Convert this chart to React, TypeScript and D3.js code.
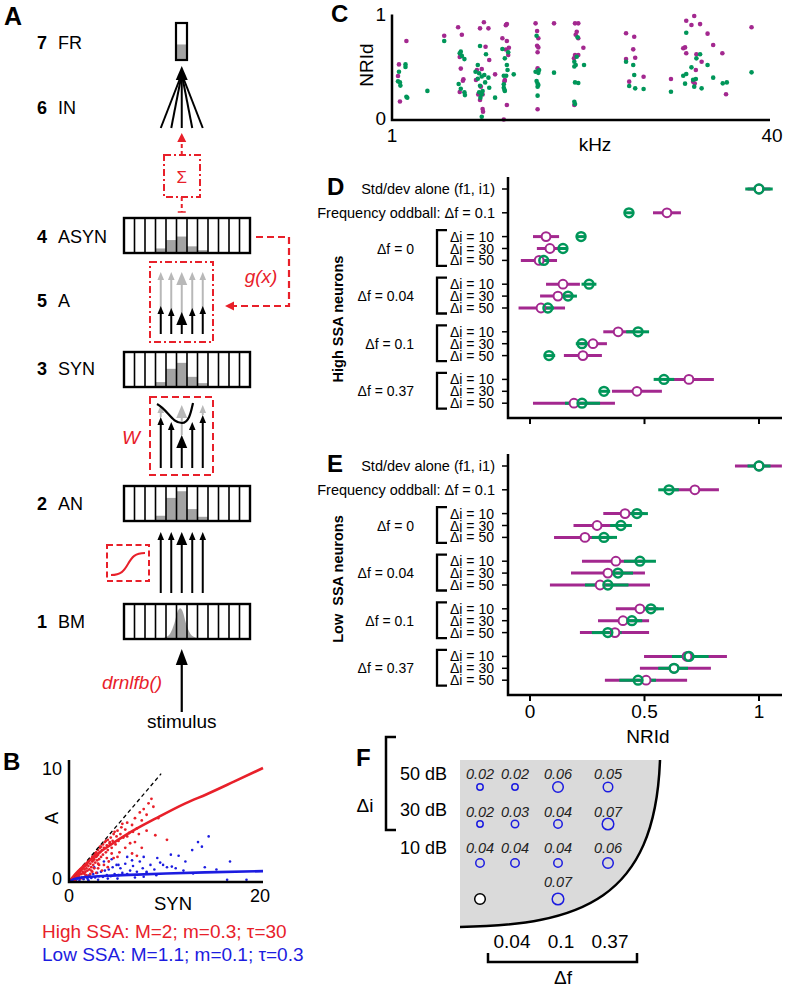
import React from 'react';
import * as d3 from 'd3';

const FONT = '"Liberation Sans", Arial, Helvetica, sans-serif';
const RED = '#e8202a';
const BLUE = '#1c1ce0';
const MAG = '#a3288f';
const GRN = '#009659';
const GRAY = '#a3a3a3';
const LIGHT = '#b8b8b8';

// ---------- Panel A: model stages ----------
const layerNumbers = ['7', '6', '4', '5', '3', '2', '1'];
const layerNames = ['FR', 'IN', 'ASYN', 'A', 'SYN', 'AN', 'BM'];
const asynHist = [0, 0, 0, 0.13, 0.37, 0.47, 0.19, 0.08, 0, 0, 0, 0];
const synHist = [0, 0, 0, 0.14, 0.52, 0.69, 0.29, 0.11, 0, 0, 0, 0];
const anHist = [0, 0, 0, 0.15, 0.66, 0.85, 0.34, 0.12, 0, 0, 0, 0];
// BM excitation profile: [cell position, height]
const bmProfile: [number, number][] = [
  [3.4, 0], [3.9, 0.04], [4.4, 0.16], [4.8, 0.45], [5.1, 0.78], [5.35, 0.88],
  [5.6, 0.78], [5.9, 0.45], [6.3, 0.16], [6.8, 0.04], [7.3, 0],
];
const frLevel = 0.42;

// ---------- Panel B: A vs SYN ----------
const identityLine: [number, number][] = [[0, 0], [9.5, 9.5]];
const highSsaFit: [number, number][] = [
  [0, 0], [0.5, 0.55], [1, 1.0], [2, 1.8], [3, 2.5], [4, 3.1], [6, 4.2], [9, 5.6],
  [12, 6.9], [14.2, 7.7], [17, 8.8], [20, 10],
];
const lowSsaFit: [number, number][] = [
  [0, 0], [0.5, 0.25], [1, 0.35], [2, 0.45], [4, 0.55], [7, 0.65], [10, 0.74], [14, 0.84], [20, 0.95],
];
const highSsaPoints: [number, number][] = [
  [0.2, 0.15], [0.3, 0.25], [0.4, 0.2], [0.5, 0.4], [0.6, 0.35], [0.7, 0.55], [0.8, 0.4], [0.9, 0.7],
  [1.0, 0.5], [1.0, 0.85], [1.1, 0.65], [1.2, 1.0], [1.3, 0.7], [1.3, 1.1], [1.4, 0.9], [1.5, 1.3],
  [1.5, 0.8], [1.6, 1.1], [1.7, 1.4], [1.7, 0.9], [1.8, 1.2], [1.9, 1.6], [1.9, 1.0], [2.0, 1.4],
  [2.0, 1.8], [2.1, 1.1], [2.2, 1.6], [2.2, 2.0], [2.3, 1.3], [2.4, 1.8], [2.4, 2.2], [2.5, 1.5],
  [2.6, 2.0], [2.6, 2.4], [2.7, 1.7], [2.8, 2.2], [2.8, 2.6], [2.9, 1.9], [3.0, 2.4], [3.0, 2.8],
  [3.1, 2.0], [3.2, 2.6], [3.2, 3.0], [3.3, 2.2], [3.4, 2.8], [3.5, 3.3], [3.5, 2.4], [3.6, 3.0],
  [3.7, 3.5], [3.8, 2.6], [3.9, 3.2], [4.0, 3.7], [4.0, 2.8], [4.2, 3.4], [4.3, 3.9], [4.4, 3.0],
  [4.5, 3.6], [4.6, 4.2], [4.8, 3.3], [4.9, 4.0], [5.0, 4.5], [5.1, 3.6], [5.3, 4.2], [5.4, 4.8],
  [5.6, 3.9], [5.8, 4.6], [6.0, 5.2], [6.2, 4.3], [6.5, 5.0], [6.8, 5.6], [7.0, 4.7], [7.3, 6.1],
  [7.5, 5.4], [7.7, 6.4], [8.0, 5.9], [8.2, 6.9], [8.5, 7.3], [8.7, 6.6], [9.2, 5.6], [8.9, 4.1],
  [10.1, 3.7], [6.8, 3.5], [6.5, 2.5], [7.0, 2.3], [4.7, 4.4], [4.2, 3.5], [3.2, 3.1], [2.5, 2.2],
  [1.8, 0.6], [2.4, 0.9], [3.0, 1.2], [3.6, 1.5], [4.1, 1.8], [4.6, 2.1], [5.2, 2.6], [5.8, 3.0],
  [6.3, 3.4], [2.0, 0.5], [2.8, 0.8], [3.4, 1.0], [1.2, 0.3], [0.6, 0.15], [1.5, 0.4], [2.2, 0.7],
  [5.0, 2.2], [4.0, 1.3], [7.5, 3.0], [8.0, 4.5], [5.5, 5.1], [6.0, 4.0], [6.6, 4.4], [7.2, 4.2],
  [3.9, 2.1], [4.4, 2.5], [3.0, 1.6], [2.6, 1.2], [0.4, 0.35], [0.8, 0.7], [1.1, 0.95], [1.6, 1.45],
  [2.1, 1.9], [2.7, 2.5], [3.3, 3.1], [3.8, 3.6], [0.3, 0.1], [0.5, 0.3], [0.7, 0.45], [0.9, 0.55],
  [1.1, 0.8], [1.4, 1.2], [1.6, 0.7], [1.8, 1.5], [2.3, 1.0], [2.5, 1.9], [2.9, 2.3], [3.1, 1.5],
];
const lowSsaPoints: [number, number][] = [
  [0.3, 0.1], [0.5, 0.2], [0.7, 0.15], [0.9, 0.3], [1.1, 0.2], [1.3, 0.4], [1.5, 0.25], [1.7, 0.5],
  [1.9, 0.3], [2.1, 0.6], [2.3, 0.35], [2.5, 0.7], [2.7, 0.4], [2.9, 0.8], [3.1, 0.5], [3.3, 0.9],
  [3.5, 0.45], [3.7, 1.0], [3.9, 0.6], [4.1, 1.1], [4.3, 0.5], [4.5, 1.3], [4.7, 0.7], [4.9, 1.5],
  [5.1, 0.6], [5.3, 1.2], [5.5, 0.8], [5.8, 1.6], [6.0, 0.7], [6.3, 1.0], [6.6, 1.4], [7.0, 0.9],
  [7.3, 1.8], [7.6, 1.2], [8.0, 0.8], [8.4, 1.5], [8.8, 1.1], [9.1, 2.1], [9.4, 1.7], [9.7, 1.5],
  [10.1, 1.3], [10.5, 2.4], [11.0, 1.2], [11.3, 2.3], [11.8, 1.0], [12.0, 1.8], [12.7, 2.8], [13.3, 3.5],
  [13.7, 3.1], [14.4, 4.0], [14.0, 1.3], [15.2, 1.1], [16.6, 1.8], [16.3, 0.2], [18.3, 0.2], [12.8, 0.75],
  [9.0, 0.6], [6.8, 0.4], [5.0, 0.3], [3.0, 0.2], [2.0, 0.15], [1.0, 0.05], [4.0, 0.3], [8.0, 0.9],
  [10.6, 1.35], [6.0, 2.2], [5.1, 1.5], [7.7, 2.2], [6.5, 1.9], [7.7, 0.46], [3.6, 1.8], [4.4, 2.0],
  [2.6, 1.3],
];

// ---------- Panel C: NRId vs best frequency ----------
const nridMagenta: [number, number][] = [
  [1.15, 0.74], [1.07, 0.52], [1.06, 0.41], [1.08, 0.17], [1.66, 0.79],
  [1.90, 0.87], [1.97, 0.80], [1.93, 0.59], [1.95, 0.48], [2.0, 0.38], [1.99, 0.365], [1.93, 0.26],
  [2.44, 0.917], [2.35, 0.86], [2.55, 0.86], [2.48, 0.687], [2.57, 0.561], [2.39, 0.476], [2.28, 0.467],
  [2.72, 0.426], [2.26, 0.373], [2.37, 0.31], [2.31, 0.237], [2.41, 0.237], [2.35, 0.184], [2.41, 0.099], [2.42, 0.074],
  [3.02, 0.89], [3.05, 0.90], [2.92, 0.766], [3.05, 0.74], [3.11, 0.677], [3.02, 0.66], [3.09, 0.608],
  [2.99, 0.373], [2.98, 0.36], [3.05, 0.137], [2.96, 0.0],
  [4.03, 0.907], [4.09, 0.835], [4.14, 0.766], [4.09, 0.696], [4.14, 0.68], [4.11, 0.634], [4.11, 0.483], [4.11, 0.096],
  [4.82, 0.907],
  [5.91, 0.907], [6.10, 0.907], [6.01, 0.828], [5.95, 0.80], [6.10, 0.766], [5.91, 0.608], [6.10, 0.608], [5.85, 0.577], [5.87, 0.137],
  [6.41, 0.677],
  [9.70, 0.813], [10.5, 0.781], [10.4, 0.662], [10.6, 0.583], [9.70, 0.571], [10.0, 0.357], [11.5, 0.404],
  [15.0, 0.382],
  [18.8, 0.976], [17.4, 0.932], [18.3, 0.892], [19.9, 0.90], [16.9, 0.672], [17.2, 0.68], [17.4, 0.625],
  [19.2, 0.615], [20.2, 0.545], [19.1, 0.467], [18.6, 0.357], [18.9, 0.34],
  [21.4, 0.81], [22.6, 0.703], [24.7, 0.625], [25.6, 0.238],
  [32.8, 0.87],
];
const nridGreen: [number, number][] = [
  [1.14, 0.52], [1.14, 0.495], [1.07, 0.45], [1.06, 0.36], [1.08, 0.35], [1.085, 0.32], [1.15, 0.215], [1.16, 0.205],
  [1.41, 0.27], [1.66, 0.74],
  [1.95, 0.64], [1.93, 0.625], [1.97, 0.60], [2.02, 0.57], [1.91, 0.335], [1.95, 0.29], [2.02, 0.257], [2.03, 0.23],
  [2.35, 0.693], [2.49, 0.615], [2.30, 0.514], [2.25, 0.451], [2.33, 0.436], [2.45, 0.42], [2.39, 0.405], [2.30, 0.385],
  [2.55, 0.395], [2.47, 0.35], [2.35, 0.319], [2.41, 0.269], [2.33, 0.257], [2.39, 0.238], [2.36, 0.206], [2.39, 0.026],
  [2.72, 0.206], [2.57, 0.30],
  [2.92, 0.665], [3.09, 0.634], [2.99, 0.577], [3.05, 0.514], [3.07, 0.467], [2.96, 0.413], [3.03, 0.413], [3.26, 0.426],
  [2.96, 0.332], [2.96, 0.30], [2.99, 0.269], [2.98, 0.28],
  [4.07, 0.79], [4.03, 0.451], [4.14, 0.44], [4.17, 0.466], [4.07, 0.363], [4.11, 0.34], [4.11, 0.31], [4.14, 0.325], [4.11, 0.225],
  [4.82, 0.442],
  [6.06, 0.775], [6.01, 0.592], [5.87, 0.545], [5.95, 0.514], [5.87, 0.50], [5.91, 0.35], [6.10, 0.345], [5.87, 0.168], [5.91, 0.146],
  [6.45, 0.514],
  [9.70, 0.545], [10.4, 0.514], [10.5, 0.42], [10.0, 0.316], [10.6, 0.294], [11.5, 0.288],
  [15.0, 0.262],
  [17.4, 0.819], [19.9, 0.615], [19.2, 0.577], [18.3, 0.492], [17.4, 0.429], [16.9, 0.413], [19.1, 0.382], [18.6, 0.375],
  [17.2, 0.338], [18.8, 0.31], [20.2, 0.294],
  [21.4, 0.514], [22.6, 0.395], [24.8, 0.341], [25.8, 0.35],
  [32.8, 0.445],
];

// ---------- Panels D/E: NRId per condition [mean, low, high] ----------
const topLabels = ['Std/dev alone (f1, i1)', 'Frequency oddball: Δf = 0.1'];
const groupLabels = ['Δf = 0', 'Δf = 0.04', 'Δf = 0.1', 'Δf = 0.37'];
const intensityLabels = ['Δi = 10', 'Δi = 30', 'Δi = 50'];
const rowSlots = [0, 2, 4, 5, 6, 8, 9, 10, 12, 13, 14, 16, 17, 18];
const nridTicks = [0, 0.5, 1];

const highMagenta: [number, number, number][] = [
  [1.0, 0.95, 1.05], [0.598, 0.537, 0.659],
  [0.07, 0.013, 0.127], [0.087, 0.03, 0.14], [0.04, -0.04, 0.118],
  [0.144, 0.07, 0.218], [0.122, 0.044, 0.19], [0.048, -0.05, 0.153],
  [0.385, 0.32, 0.45], [0.275, 0.215, 0.336], [0.231, 0.148, 0.314],
  [0.694, 0.585, 0.803], [0.467, 0.358, 0.576], [0.192, 0.013, 0.371],
];
const highGreen: [number, number, number][] = [
  [1.0, 0.94, 1.06], [0.432, 0.41, 0.455],
  [0.223, 0.2, 0.245], [0.144, 0.122, 0.166], [0.06, 0.04, 0.08],
  [0.258, 0.225, 0.29], [0.166, 0.13, 0.205], [0.078, 0.05, 0.105],
  [0.472, 0.42, 0.52], [0.227, 0.2, 0.25], [0.083, 0.06, 0.11],
  [0.585, 0.54, 0.63], [0.323, 0.3, 0.35], [0.227, 0.153, 0.306],
];
const lowMagenta: [number, number, number][] = [
  [1.0, 0.895, 1.1], [0.72, 0.62, 0.825],
  [0.415, 0.32, 0.5], [0.293, 0.19, 0.4], [0.24, 0.105, 0.36],
  [0.375, 0.227, 0.5], [0.34, 0.179, 0.502], [0.306, 0.087, 0.524],
  [0.48, 0.375, 0.56], [0.406, 0.297, 0.52], [0.371, 0.218, 0.52],
  [0.686, 0.498, 0.86], [0.629, 0.48, 0.79], [0.507, 0.327, 0.686],
];
const lowGreen: [number, number, number][] = [
  [1.0, 0.95, 1.05], [0.607, 0.56, 0.65],
  [0.467, 0.42, 0.515], [0.397, 0.35, 0.445], [0.323, 0.27, 0.38],
  [0.48, 0.41, 0.55], [0.384, 0.33, 0.45], [0.34, 0.24, 0.43],
  [0.528, 0.47, 0.585], [0.445, 0.4, 0.49], [0.34, 0.27, 0.4],
  [0.694, 0.62, 0.78], [0.629, 0.56, 0.69], [0.472, 0.39, 0.55],
];

// ---------- Panel F: p-values ----------
const fColumns = ['0', '0.04', '0.1', '0.37'];
const fColumnLabels = ['0.04', '0.1', '0.37'];
const fRowLabels = ['50 dB', '30 dB', '10 dB'];
const fValues: (number | null)[][] = [
  [0.02, 0.02, 0.06, 0.05],
  [0.02, 0.03, 0.04, 0.07],
  [0.04, 0.04, 0.04, 0.06],
  [null, null, 0.07, null],
];

// ---------- layout ----------
const CELL_X0 = 124;
const CELL_W = 10.5;
const N_CELLS = 12;
const BOX_H = 35;
const ARROW_CELLS = [3.5, 4.5, 5.5, 6.5, 7.5];
const LAYER_BASE = [49, 114, 243, 307, 375, 510, 628];

function Head({ x, y, hw, hl, fill, dir = 'up' }: any) {
  const pts = dir === 'up'
    ? `${x},${y} ${x - hw},${y + hl} ${x + hw},${y + hl}`
    : `${x},${y} ${x + hl},${y - hw} ${x + hl},${y + hw}`;
  return <polygon points={pts} fill={fill} />;
}

function UpArrow({ x, from, tip, big = false, color = '#000' }: any) {
  const hw = big ? 5.5 : 3.3;
  const hl = big ? 13 : 8;
  return (
    <g>
      <line x1={x} x2={x} y1={from} y2={tip + hl * 0.6} stroke={color} strokeWidth={2} />
      <Head x={x} y={tip} hw={hw} hl={hl} fill={color} />
    </g>
  );
}

function LayerBox({ top, hist, profile }: { top: number; hist?: number[]; profile?: [number, number][] }) {
  const bottom = top + BOX_H;
  const area = d3.area<[number, number]>()
    .x(d => CELL_X0 + d[0] * CELL_W)
    .y0(bottom)
    .y1(d => bottom - d[1] * BOX_H)
    .curve(d3.curveMonotoneX);
  return (
    <g>
      {hist && hist.map((h, i) => h > 0 && (
        <rect key={i} x={CELL_X0 + i * CELL_W} y={bottom - h * BOX_H} width={CELL_W} height={h * BOX_H} fill={GRAY} />
      ))}
      {profile && <path d={area(profile) || ''} fill={GRAY} />}
      {d3.range(1, N_CELLS).map(i => (
        <line key={i} x1={CELL_X0 + i * CELL_W} x2={CELL_X0 + i * CELL_W} y1={top} y2={bottom} stroke="#000" strokeWidth={1.6} />
      ))}
      <rect x={CELL_X0} y={top} width={N_CELLS * CELL_W} height={BOX_H} fill="none" stroke="#000" strokeWidth={2.4} />
    </g>
  );
}

function PanelA() {
  const ax = ARROW_CELLS.map(c => CELL_X0 + c * CELL_W);
  const cx = ax[2];
  const aBlackTips = [306, 308, 312, 308, 306];
  const wBlackTips = [417, 422, 435, 422, 415];
  return (
    <g>
      <text x={4} y={25} fontSize={25} fontWeight="bold">A</text>
      {layerNames.map((n, i) => (
        <g key={n}>
          <text x={37} y={LAYER_BASE[i]} fontSize={18} fontWeight="bold">{layerNumbers[i]}</text>
          <text x={58} y={LAYER_BASE[i]} fontSize={18}>{n}</text>
        </g>
      ))}

      {/* 7 FR */}
      <rect x={176} y={60 - frLevel * 37} width={11} height={frLevel * 37} fill={GRAY} />
      <rect x={176} y={23} width={11} height={37} fill="none" stroke="#000" strokeWidth={2.2} />

      {/* 6 IN */}
      {ax.map((x, i) => <line key={i} x1={cx} y1={74} x2={x} y2={128} stroke="#000" strokeWidth={2} />)}
      <Head x={cx} y={66} hw={6} hl={14} fill="#000" />

      {/* sum */}
      <line x1={cx} x2={cx} y1={155} y2={141} stroke={RED} strokeWidth={2} strokeDasharray="4,3" />
      <Head x={cx} y={133} hw={4.5} hl={9} fill={RED} />
      <rect x={164} y={155} width={36} height={42} fill="none" stroke={RED} strokeWidth={2} strokeDasharray="7,3,2,3" />
      <text x={cx} y={183} fontSize={17} fill={RED} textAnchor="middle">Σ</text>
      <line x1={cx} x2={cx} y1={197} y2={212} stroke={RED} strokeWidth={2} strokeDasharray="4,3" />
      <line x1={cx - 4} x2={cx + 4} y1={212} y2={212} stroke={RED} strokeWidth={1.5} />

      {/* 4 ASYN */}
      <LayerBox top={218} hist={asynHist} />
      <path d="M256,237 H289 V306 H233" fill="none" stroke={RED} strokeWidth={2.2} strokeDasharray="7,4" />
      <Head x={225} y={306} hw={4.5} hl={9} fill={RED} dir="left" />
      <text x={261} y={283} fontSize={19} fontStyle="italic" fill={RED} textAnchor="middle">g(x)</text>

      {/* 5 A */}
      {ax.map((x, i) => <UpArrow key={'g' + i} x={x} from={aBlackTips[i] + 4} tip={272} big={i === 2} color={LIGHT} />)}
      {ax.map((x, i) => <UpArrow key={'b' + i} x={x} from={334} tip={aBlackTips[i]} big={i === 2} />)}
      <rect x={150} y={262} width={63} height={80} fill="none" stroke={RED} strokeWidth={2} strokeDasharray="7,3,2,3" />

      {/* 3 SYN */}
      <LayerBox top={352} hist={synHist} />

      {/* W */}
      {[0, 2, 4].map(i => <UpArrow key={'wg' + i} x={ax[i]} from={wBlackTips[i]} tip={405} big={i === 2} color={LIGHT} />)}
      {ax.map((x, i) => <UpArrow key={'wb' + i} x={x} from={468} tip={wBlackTips[i]} big={i === 2} />)}
      <path d="M157,404 C168,410 172,423 182,423 C189,423 191,412 193,403" fill="none" stroke="#000" strokeWidth={2.2} />
      <rect x={150} y={397} width={63} height={78} fill="none" stroke={RED} strokeWidth={2} strokeDasharray="7,4" />
      <text x={131} y={444} fontSize={19} fontStyle="italic" fill={RED} textAnchor="middle">W</text>

      {/* 2 AN */}
      <LayerBox top={486} hist={anHist} />
      {ax.map((x, i) => <UpArrow key={'an' + i} x={x} from={593} tip={532} big={i === 2} />)}
      <rect x={107} y={545} width={42} height={36} fill="none" stroke={RED} strokeWidth={2} strokeDasharray="6,3.5" />
      <path d="M111,575 C121,575 124,571 128,564 C132,557 135,553 145,553" fill="none" stroke={RED} strokeWidth={2} />

      {/* 1 BM */}
      <LayerBox top={604} profile={bmProfile} />
      <line x1={cx} x2={cx} y1={712} y2={660} stroke="#000" strokeWidth={2.2} />
      <Head x={cx} y={649} hw={6} hl={16} fill="#000" />
      <text x={132} y={689} fontSize={19} fontStyle="italic" fill={RED} textAnchor="middle">drnlfb()</text>
      <text x={cx} y={728} fontSize={19} textAnchor="middle">stimulus</text>
    </g>
  );
}

function PanelB() {
  const x = d3.scaleLinear().domain([0, 20]).range([69, 263]);
  const y = d3.scaleLinear().domain([0, 10]).range([882, 768]);
  const line = d3.line<[number, number]>().x(d => x(d[0])).y(d => y(d[1])).curve(d3.curveMonotoneX);
  return (
    <g>
      <text x={3} y={770} fontSize={24} fontWeight="bold">B</text>
      {lowSsaPoints.map((d, i) => <circle key={'l' + i} cx={x(d[0])} cy={y(d[1])} r={1.3} fill={BLUE} />)}
      {highSsaPoints.map((d, i) => <circle key={'h' + i} cx={x(d[0])} cy={y(d[1])} r={1.4} fill={RED} />)}
      <path d={line(identityLine) || ''} fill="none" stroke="#000" strokeWidth={1.3} strokeDasharray="4,3" />
      <path d={line(highSsaFit) || ''} fill="none" stroke={RED} strokeWidth={2.6} />
      <path d={line(lowSsaFit) || ''} fill="none" stroke={BLUE} strokeWidth={2.6} />
      <path d={`M${x(0)},${y(10.7)} V${y(0)} H${x(20)}`} fill="none" stroke="#000" strokeWidth={2.5} />
      <text x={62} y={775} fontSize={18} textAnchor="end">10</text>
      <text x={62} y={885} fontSize={18} textAnchor="end">0</text>
      <text x={x(0)} y={902} fontSize={18} textAnchor="middle">0</text>
      <text x={x(20) - 3} y={902} fontSize={18} textAnchor="middle">20</text>
      <text x={173} y={910} fontSize={18.5} textAnchor="middle">SYN</text>
      <text transform="translate(58,818) rotate(-90)" fontSize={18} textAnchor="middle">A</text>
      <text x={42} y={938} fontSize={19} fill={RED}>High SSA: M=2; m=0.3; τ=30</text>
      <text x={42} y={961} fontSize={19} fill={BLUE}>Low SSA: M=1.1; m=0.1; τ=0.3</text>
    </g>
  );
}

function PanelC() {
  const x = d3.scaleLog().domain([1, 40]).range([392, 772]);
  const y = d3.scaleLinear().domain([0, 1]).range([119.5, 13.5]);
  return (
    <g>
      <text x={331} y={22} fontSize={24} fontWeight="bold">C</text>
      {nridMagenta.map((d, i) => <circle key={'m' + i} cx={x(d[0])} cy={y(d[1])} r={2.3} fill={MAG} />)}
      {nridGreen.map((d, i) => <circle key={'g' + i} cx={x(d[0])} cy={y(d[1])} r={2.3} fill={GRN} />)}
      <path d={`M${x(1)},${y(0.99)} V${y(0) + 0.5} H${x(40) - 2}`} fill="none" stroke="#000" strokeWidth={2.5} />
      <text x={386} y={21} fontSize={19} textAnchor="end">1</text>
      <text x={386} y={125} fontSize={19} textAnchor="end">0</text>
      <text x={x(1)} y={142} fontSize={19} textAnchor="middle">1</text>
      <text x={x(40)} y={142} fontSize={19} textAnchor="middle">40</text>
      <text x={595} y={151} fontSize={19} textAnchor="middle">kHz</text>
      <text transform="translate(373,65) rotate(-90)" fontSize={19} textAnchor="middle">NRId</text>
    </g>
  );
}

function Forest({ base, letter, side, sideCenter, mag, grn, showTicks }: any) {
  const x = d3.scaleLinear().domain([0, 1]).range([530, 759]);
  const y = d3.scaleLinear().domain([0, 18]).range([base, base + 18 * 11.9]);
  const axisX = 508;
  const yTop = y(-1);
  const yBot = y(19.25);
  return (
    <g>
      <text x={327} y={base + 6} fontSize={24} fontWeight="bold">{letter}</text>
      <text transform={`translate(343,${sideCenter}) rotate(-90)`} fontSize={14.5} fontWeight="bold" textAnchor="middle" style={{ whiteSpace: 'pre' }}>{side}</text>
      {rowSlots.map((s, i) => (
        <g key={i}>
          <line x1={axisX - 6} x2={axisX} y1={y(s)} y2={y(s)} stroke="#000" strokeWidth={1.5} />
          <text x={i < 2 ? 495 : 494} y={y(s) + 5} fontSize={i < 2 ? 14.5 : 14} textAnchor="end">
            {i < 2 ? topLabels[i] : intensityLabels[(i - 2) % 3]}
          </text>
        </g>
      ))}
      {groupLabels.map((g, k) => {
        const r0 = y(rowSlots[2 + k * 3]);
        const r1 = y(rowSlots[3 + k * 3]);
        const r2 = y(rowSlots[4 + k * 3]);
        return (
          <g key={g}>
            <path d={`M447,${r0 - 6.5} H437 V${r2 + 5.5} H447`} fill="none" stroke="#000" strokeWidth={2.3} />
            <text x={414} y={r1 + 5} fontSize={14} textAnchor="end">{g}</text>
          </g>
        );
      })}
      {mag.map((d: number[], i: number) => (
        <line key={'mb' + i} x1={x(d[1])} x2={x(d[2])} y1={y(rowSlots[i])} y2={y(rowSlots[i])} stroke={MAG} strokeWidth={3} />
      ))}
      {grn.map((d: number[], i: number) => (
        <line key={'gb' + i} x1={x(d[1])} x2={x(d[2])} y1={y(rowSlots[i])} y2={y(rowSlots[i])} stroke={GRN} strokeWidth={3} />
      ))}
      {mag.map((d: number[], i: number) => (
        <circle key={'mc' + i} cx={x(d[0])} cy={y(rowSlots[i])} r={4.4} fill="#fff" stroke={MAG} strokeWidth={2} />
      ))}
      {grn.map((d: number[], i: number) => (
        <circle key={'gc' + i} cx={x(d[0])} cy={y(rowSlots[i])} r={4.4} fill="none" stroke={GRN} strokeWidth={2.5} />
      ))}
      <path d={`M${axisX},${yTop} V${yBot} H782`} fill="none" stroke="#000" strokeWidth={2.5} />
      {nridTicks.map(t => (
        <line key={t} x1={x(t)} x2={x(t)} y1={yBot} y2={yBot + 6} stroke="#000" strokeWidth={2} />
      ))}
      {showTicks && nridTicks.map(t => (
        <text key={'l' + t} x={x(t)} y={yBot + 23} fontSize={19} textAnchor="middle">{t}</text>
      ))}
      {showTicks && <text x={648} y={743} fontSize={19} textAnchor="middle">NRId</text>}
    </g>
  );
}

function PanelF() {
  const colX = d3.scaleOrdinal<string, number>().domain(fColumns).range([480, 515, 558, 608]);
  const rowCircleY = [787, 824, 863, 899];
  const rowTextY = [779, 817, 853, 887];
  const rowLabelY = [780, 816, 854];
  const r = d3.scaleLinear().domain([0.02, 0.07]).range([3.2, 5.8]);
  const curve = 'C655,900 580,925 460,927';
  return (
    <g>
      <text x={356} y={766} fontSize={24} fontWeight="bold">F</text>
      <path d={`M460,760 L660,760 ${curve} Z`} fill="#dadada" />
      <path d={`M660,760 ${curve}`} fill="none" stroke="#000" strokeWidth={2.5} />
      <path d="M396,737 H386 V830 H396" fill="none" stroke="#000" strokeWidth={2.5} />
      <text x={365} y={812} fontSize={19} textAnchor="middle">Δi</text>
      {fRowLabels.map((l, i) => (
        <text key={l} x={447} y={rowLabelY[i]} fontSize={18} textAnchor="end">{l}</text>
      ))}
      {fValues.map((row, i) => row.map((v, j) => v == null ? null : (
        <g key={i + '-' + j}>
          <text x={colX(fColumns[j])} y={rowTextY[i]} fontSize={14.5} fontStyle="italic" textAnchor="middle" fill="#222">{v.toFixed(2)}</text>
          <circle cx={colX(fColumns[j])} cy={rowCircleY[i]} r={r(v)} fill="none" stroke={BLUE} strokeWidth={1.5} />
        </g>
      )))}
      <circle cx={colX('0')} cy={rowCircleY[3]} r={5.3} fill="#fff" stroke="#000" strokeWidth={1.5} />
      {fColumnLabels.map((l, i) => (
        <text key={l} x={[512, 561, 610][i]} y={948} fontSize={19} textAnchor="middle">{l}</text>
      ))}
      <path d="M488,953 V962 H637 V953" fill="none" stroke="#000" strokeWidth={2.5} />
      <text x={563} y={984} fontSize={19} textAnchor="middle">Δf</text>
    </g>
  );
}

export default function App() {
  return (
    <svg width={787} height={988} viewBox="0 0 787 988" fontFamily={FONT}
      style={{ position: 'absolute', left: 0, top: 0, background: '#fff' }}>
      <rect width={787} height={988} fill="#fff" />
      <PanelA />
      <PanelB />
      <PanelC />
      <Forest base={189} letter="D" side="High SSA neurons" sideCenter={319} mag={highMagenta} grn={highGreen} showTicks={false} />
      <Forest base={466} letter="E" side="Low  SSA neurons" sideCenter={579} mag={lowMagenta} grn={lowGreen} showTicks={true} />
      <PanelF />
    </svg>
  );
}
